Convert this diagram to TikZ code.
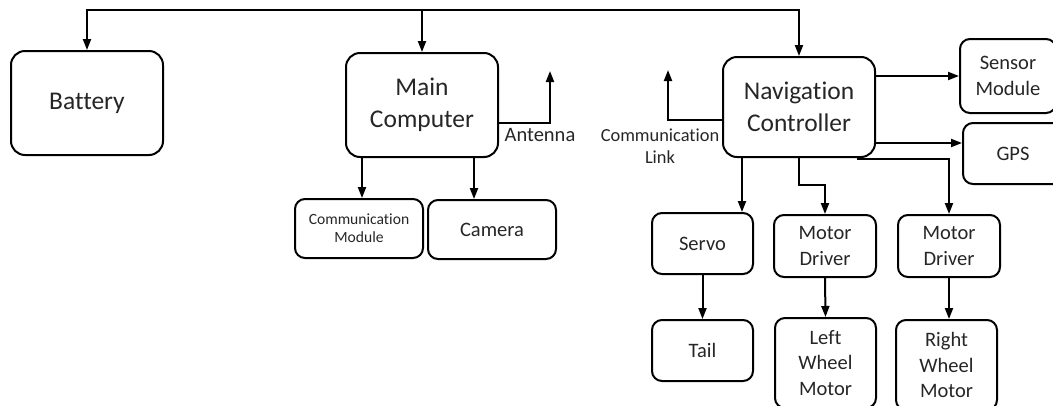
\documentclass[tikz,border=0pt]{standalone}
\usepackage{fontspec}
\setmainfont{Carlito}[Ligatures=NoCommon]
\usetikzlibrary{arrows.meta, positioning, calc}

\tikzset{
  blocco/.style={draw, line width=2pt, rounded corners=14pt, align=center, inner sep=0pt, text=black!85},
  grande/.style={blocco, minimum width=152pt, minimum height=104pt, font=\fontsize{25.5}{32}\selectfont},
  medio/.style={blocco, rounded corners=10pt, font=\fontsize{20.5}{25.5}\selectfont},
  freccia/.style={-{Triangle[length=11pt,width=8pt]}, line width=2pt},
  etichetta/.style={align=center, inner sep=0pt, text=black!85}
}

\begin{document}
\begin{tikzpicture}[x=1pt, y=-1pt]
    % Cornice
    \useasboundingbox (0,0) rectangle (1053,405);
    \clip (0,0) rectangle (1053,405);
    % Blocchi principali
    \node[grande] (batteria) at (87,103) {Battery};
    \node[grande] (computer) at (422,105) {Main\\Computer};
    \node[grande, minimum height=100pt] (navig) at (799,107) {Navigation\\Controller};
    % Blocchi del computer
    \node[medio, minimum width=128pt, minimum height=59pt, font=\fontsize{15.6}{18}\selectfont] (modcom) at (359,228.5) {Communication\\Module};
    \node[medio, minimum width=128pt, minimum height=59pt] (camera) at (492,229.5) {Camera};
    % Blocchi del controller
    \node[medio, minimum width=96pt, minimum height=74pt] (sensore) at (1008,76) {Sensor\\Module};
    \node[medio, minimum width=100pt, minimum height=61pt] (gps) at (1013,153.5) {GPS};
    \node[medio, minimum width=101pt, minimum height=61pt] (servo) at (702.5,243.5) {Servo};
    \node[medio, minimum width=101pt, minimum height=61pt] (coda) at (702.5,350.5) {Tail};
    \node[medio, minimum width=102pt, minimum height=62pt] (driversx) at (825,246) {Motor\\Driver};
    \node[medio, minimum width=102pt, minimum height=62pt] (driverdx) at (949,246) {Motor\\Driver};
    \node[medio, minimum width=101pt, minimum height=90pt] (motoresx) at (825.5,363) {Left\\Wheel\\Motor};
    \node[medio, minimum width=101pt, minimum height=90pt] (motoredx) at (946.5,365) {Right\\Wheel\\Motor};
    % Etichette
    \node[etichetta, font=\fontsize{20.5}{24}\selectfont] (antlab) at (540,135) {Antenna};
    \node[etichetta, font=\fontsize{18.4}{22}\selectfont] (linklab) at (660,146) {Communication\\Link};
    % Coordinate
    \coordinate (bus) at (0,10);
    \coordinate (antenna) at (550,71);
    \coordinate (link) at (668,70);
    % Alimentazione
    \draw[freccia] (computer.north |- bus) -| (batteria.north);
    \draw[freccia] (computer.north |- bus) -| (navig.north);
    \draw[freccia] (computer.north |- bus) -- (computer.north);
    % Computer
    \draw[freccia] ([yshift=-18pt]computer.east) -| (antenna);
    \coordinate (csx) at ([xshift=-60pt]computer.south);
    \coordinate (cdx) at ([xshift=52pt]computer.south);
    \draw[freccia] (csx) -- (csx |- modcom.north);
    \draw[freccia] (cdx) -- (cdx |- camera.north);
    % Controller
    \draw[freccia] ([yshift=-13pt]navig.west) -| (link);
    \draw[freccia] (navig.east |- sensore.west) -- (sensore.west);
    \coordinate (ngps) at ([yshift=-36pt]navig.east);
    \draw[freccia] (ngps) -- (ngps -| gps.west);
    \coordinate (nservo) at ([xshift=-57pt]navig.south);
    \draw[freccia] (nservo) -- (nservo |- servo.north);
    \draw[freccia] (navig.south) -- ++(0,27) -| (driversx.north);
    \draw[freccia] ([xshift=58pt,yshift=-1pt]navig.south) -| (driverdx.north);
    \draw[freccia] (servo.south) -- (coda.north);
    \draw[freccia] (driversx.south) -- (motoresx.north);
    \draw[freccia] (driverdx.south) -- (driverdx.south |- motoredx.north);
\end{tikzpicture}
\end{document}
